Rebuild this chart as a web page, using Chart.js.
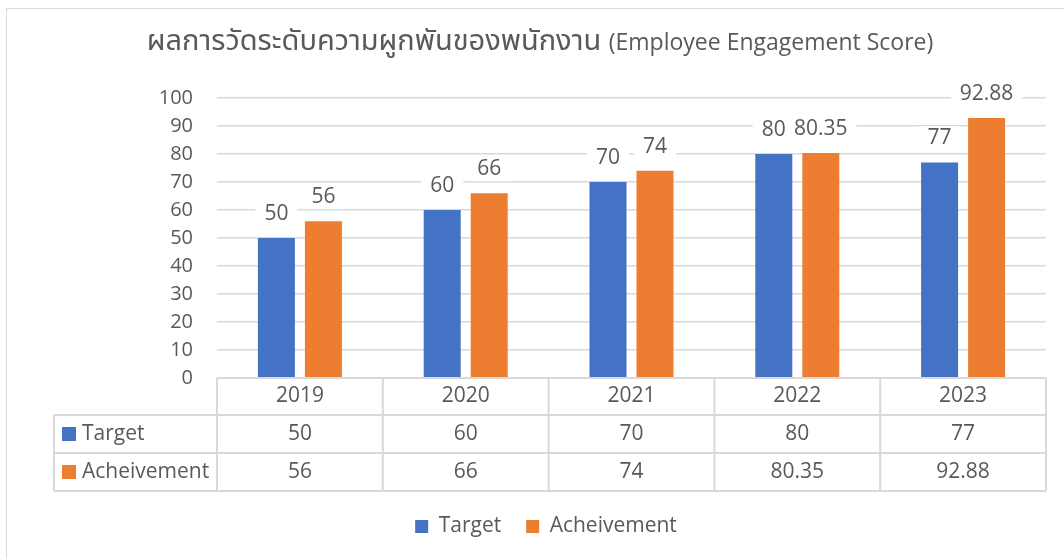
<!DOCTYPE html>
<html><head><meta charset="utf-8">
<script src="https://cdn.jsdelivr.net/npm/chart.js@4.4.0/dist/chart.umd.min.js"></script>
<style>html,body{margin:0;padding:0;background:#fff}#wrap{width:1064px;height:559px;position:relative}</style>
</head><body><div id="wrap"><canvas id="c" width="1064" height="559"></canvas></div>
<script>
const titleThai = 'ผลการวัดระดับความผูกพันของพนักงาน';
const titleEnglish = '(Employee Engagement Score)';
const years = ['2019', '2020', '2021', '2022', '2023'];
const seriesNames = ['Target', 'Acheivement'];
const targetValues = [50, 60, 70, 80, 77];
const achievementValues = [56, 66, 74, 80.35, 92.88];
const yMin = 0, yMax = 100, yStep = 10;

const FONT = "'Open Sans', 'Noto Sans', 'Noto Sans Thai', 'Loma', 'Garuda', sans-serif";
const TXT = '#595959';
const LINE = '#d9d9d9';
const BLUE = '#4472C4', ORANGE = '#ED7D31';

const framePlugin = {
  id: 'frame',
  beforeDraw(chart) {
    const ctx = chart.ctx;
    ctx.save();
    ctx.strokeStyle = LINE; ctx.lineWidth = 1;
    ctx.strokeRect(6.5, 8.5, 1100, 600);
    ctx.fillStyle = TXT;
    ctx.textBaseline = 'alphabetic'; ctx.textAlign = 'left';
    const f1 = '29px ' + FONT, f2 = '23px ' + FONT;
    ctx.font = f1; const w1 = ctx.measureText(titleThai + ' ').width;
    ctx.font = f2; const w2 = ctx.measureText(titleEnglish).width;
    const x0 = 540 - (w1 + w2) / 2;
    ctx.font = f1; ctx.fillText(titleThai + ' ', x0, 50);
    ctx.font = f2; ctx.fillText(titleEnglish, x0 + w1, 50);
    ctx.restore();
  }
};

const labelPlugin = {
  id: 'barLabels',
  afterDatasetsDraw(chart) {
    const ctx = chart.ctx;
    ctx.save();
    ctx.font = '21px ' + FONT;
    ctx.textAlign = 'center'; ctx.textBaseline = 'middle';
    chart.data.datasets.forEach((ds, di) => {
      chart.getDatasetMeta(di).data.forEach((bar, i) => {
        const t = String(ds.data[i]);
        const w = ctx.measureText(t).width + 18;
        const y = bar.y - 24;
        ctx.fillStyle = '#fff';
        ctx.fillRect(bar.x - w / 2, y - 12, w, 24);
        ctx.fillStyle = TXT;
        ctx.fillText(t, bar.x, y);
      });
    });
    ctx.restore();
  }
};

const tablePlugin = {
  id: 'dataTable',
  afterDraw(chart) {
    const ctx = chart.ctx;
    const xs = chart.scales.x;
    const area = chart.chartArea;
    const half = (xs.getPixelForValue(1) - xs.getPixelForValue(0)) / 2;
    const left = area.left, right = area.right;
    const r0 = area.bottom, r1 = r0 + 37, r2 = r1 + 38, r3 = r2 + 38;
    const tLeft = 54;
    ctx.save();
    ctx.strokeStyle = LINE; ctx.lineWidth = 2;
    ctx.beginPath();
    ctx.moveTo(left, r0); ctx.lineTo(right, r0);
    [r1, r2, r3].forEach(y => { ctx.moveTo(tLeft, y); ctx.lineTo(right, y); });
    ctx.moveTo(tLeft, r1); ctx.lineTo(tLeft, r3);
    years.forEach((c, i) => {
      const x = xs.getPixelForValue(i) - half;
      ctx.moveTo(x, r0); ctx.lineTo(x, r3);
    });
    ctx.moveTo(right, r0); ctx.lineTo(right, r3);
    ctx.stroke();

    ctx.font = '21px ' + FONT;
    ctx.fillStyle = TXT;
    ctx.textAlign = 'center'; ctx.textBaseline = 'middle';
    const rowsY = [(r0 + r1) / 2, (r1 + r2) / 2, (r2 + r3) / 2];
    years.forEach((c, i) => {
      const x = xs.getPixelForValue(i);
      ctx.fillText(c, x, rowsY[0]);
      ctx.fillText(String(targetValues[i]), x, rowsY[1]);
      ctx.fillText(String(achievementValues[i]), x, rowsY[2]);
    });
    ctx.textAlign = 'left';
    [[BLUE, seriesNames[0], rowsY[1]], [ORANGE, seriesNames[1], rowsY[2]]].forEach(([col, name, y]) => {
      ctx.fillStyle = col;
      ctx.fillRect(62, y - 7, 14, 14);
      ctx.fillStyle = TXT;
      ctx.fillText(name, 82, y);
    });
    ctx.restore();
  }
};

new Chart(document.getElementById('c'), {
  type: 'bar',
  data: {
    labels: years,
    datasets: [
      { label: seriesNames[0], data: targetValues, backgroundColor: BLUE, categoryPercentage: 0.567, barPercentage: 0.787 },
      { label: seriesNames[1], data: achievementValues, backgroundColor: ORANGE, categoryPercentage: 0.567, barPercentage: 0.787 }
    ]
  },
  options: {
    responsive: false,
    devicePixelRatio: 1,
    animation: false,
    layout: { padding: { top: 98, left: 46, right: 18, bottom: 12 } },
    plugins: {
      title: { display: false },
      tooltip: { enabled: false },
      legend: {
        position: 'bottom',
        labels: { boxWidth: 13, boxHeight: 13, padding: 25, color: TXT, font: { family: FONT, size: 21 } }
      }
    },
    scales: {
      x: {
        grid: { display: false },
        border: { display: false },
        ticks: { display: false },
        afterFit(s) { s.height = 113; }
      },
      y: {
        min: yMin, max: yMax,
        ticks: { stepSize: yStep, color: TXT, padding: 24, font: { family: FONT, size: 20 } },
        grid: { color: LINE, lineWidth: 1.5, drawTicks: false },
        border: { display: false },
        afterFit(s) { s.width = 171; }
      }
    }
  },
  plugins: [framePlugin, labelPlugin, tablePlugin]
});
</script></body></html>
